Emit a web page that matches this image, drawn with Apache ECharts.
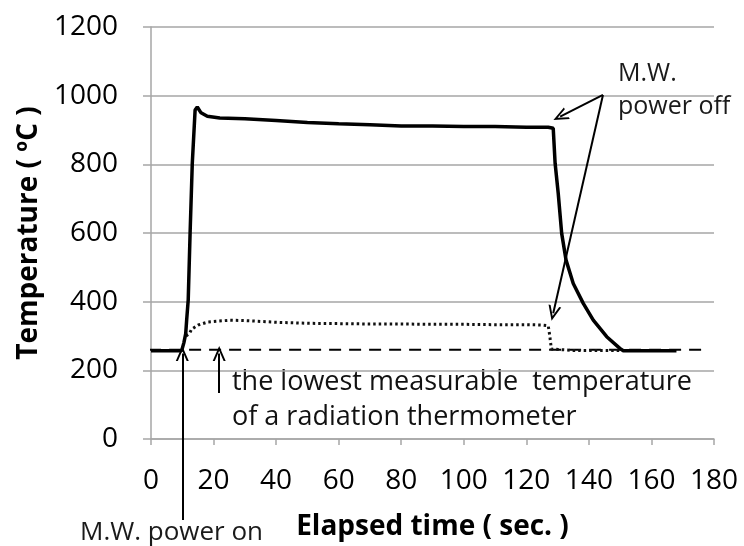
<!DOCTYPE html>
<html><head><meta charset="utf-8">
<script src="https://cdn.jsdelivr.net/npm/echarts@6/dist/echarts.min.js"></script>
<style>html,body{margin:0;padding:0;background:#fff}#c{width:744px;height:546px}</style>
</head><body><div id="c"></div>
<script>
// Solid curve (time s, temperature °C)
const solidX = [0,3,6,9.8,10.5,11.1,11.4,11.9,12.5,13.2,14.1,14.8,16,18,22,30,40,50,60,70,80,90,100,110,120,127,128.6,129.2,130.2,131.3,132.7,135,138.2,141.4,145.7,149.9,151,155,160,168];
const solidY = [257,257,257,257,280,307,346,405,600,803,958,967,950,940,935,933,928,922,918,915,912,912,910,910,908,908,905,803,715,599,521,453,395,346,298,264,257,257,257,257];
// Radiation thermometer dotted curve
const dotX = [11.2,12.3,13,15.1,18.3,25.3,30,40,50,60,70,80,90,100,110,120,125,127,127.5,128,135,145,150];
const dotY = [300,307,320,332,341,346,345,340,337,336,335,335,334,334,333,333,332,330,300,262,258,258,258];
// Lowest measurable temperature (dashed)
const thresholdX = [-7,178];
const thresholdY = [260,260];
const xTicks = {min:0,max:180,interval:20};
const yTicks = {min:0,max:1200,interval:200};

const zip = (a,b)=>a.map((v,i)=>[v,b[i]]);
const FONT = '"Open Sans"';
const arrowHead = 'path://M0,12L5,0L10,12L8.4,12L5,3.8L1.6,12Z';

const chart = echarts.init(document.getElementById('c'), null, {renderer:'canvas'});
const base = {
  animation:false,
  backgroundColor:'#fff',
  grid:{left:151,right:30,top:27,bottom:107,containLabel:false,outerBoundsMode:'none'},
  xAxis:{type:'value',min:xTicks.min,max:xTicks.max,interval:xTicks.interval,
    name:'Elapsed time ( sec. )',nameLocation:'middle',nameGap:74,
    nameTextStyle:{fontFamily:FONT,fontWeight:'bold',fontSize:28,color:'#000'},
    axisLine:{show:true,lineStyle:{color:'#a6a6a6',width:1.5}},
    axisTick:{show:true,length:6,lineStyle:{color:'#a6a6a6',width:1.5}},
    axisLabel:{fontFamily:FONT,fontSize:28,color:'#000',margin:28,formatter:v=>String(v)},
    splitLine:{show:false}},
  yAxis:{type:'value',min:yTicks.min,max:yTicks.max,interval:yTicks.interval,
    name:'Temperature ( ºC )',nameLocation:'middle',nameGap:106,nameRotate:90,
    nameTextStyle:{fontFamily:FONT,fontWeight:'bold',fontSize:28,color:'#000'},
    axisLine:{show:true,lineStyle:{color:'#a6a6a6',width:1.5}},
    axisTick:{show:true,length:8,lineStyle:{color:'#a6a6a6',width:1.5}},
    axisLabel:{fontFamily:FONT,fontSize:28,color:'#000',margin:33,formatter:v=>String(v)},
    splitLine:{show:true,lineStyle:{color:'#a6a6a6',width:1.5}}},
  series:[
    {type:'line',data:zip(thresholdX,thresholdY),showSymbol:false,clip:false,silent:true,
     lineStyle:{color:'#000',width:2,type:[12,8]}},
    {type:'line',data:zip(dotX,dotY),showSymbol:false,silent:true,
     lineStyle:{color:'#111',width:3,type:[2.5,3]}},
    {type:'line',data:zip(solidX,solidY),showSymbol:false,silent:true,
     lineStyle:{color:'#000',width:3.5}}
  ],
  graphic:[
    {type:'text',left:232,top:369,style:{text:'the lowest measurable  temperature',font:'27px '+FONT,fill:'#111'}},
    {type:'text',left:232,top:404,style:{text:'of a radiation thermometer',font:'27px '+FONT,fill:'#111'}},
    {type:'text',left:618,top:61,style:{text:'M.W.',font:'25px '+FONT,fill:'#1a1a1a'}},
    {type:'text',left:618,top:94,style:{text:'power off',font:'25px '+FONT,fill:'#1a1a1a'}},
    {type:'text',left:80,top:520,style:{text:'M.W. power on',font:'26px '+FONT,fill:'#1a1a1a'}}
  ]
};
chart.setOption(base);
// "power on" arrow starts below the x axis: give its foot as a pixel point
const foot = chart.convertToPixel({gridIndex:0},[10,-236]);
chart.setOption({series:[{markLine:{silent:true,animation:false,symbol:['none',arrowHead],symbolSize:[13,15],
  label:{show:false},lineStyle:{color:'#000',width:2,type:'solid'},
  data:[
    [{x:foot[0],y:foot[1]},{coord:[10,249]}],
    [{coord:[21.8,134]},{coord:[21.8,249]}],
    [{coord:[144.5,1002]},{coord:[130.8,939]}],
    [{coord:[144.5,1002]},{coord:[128.6,366]}]
  ]}}]});
</script></body></html>
